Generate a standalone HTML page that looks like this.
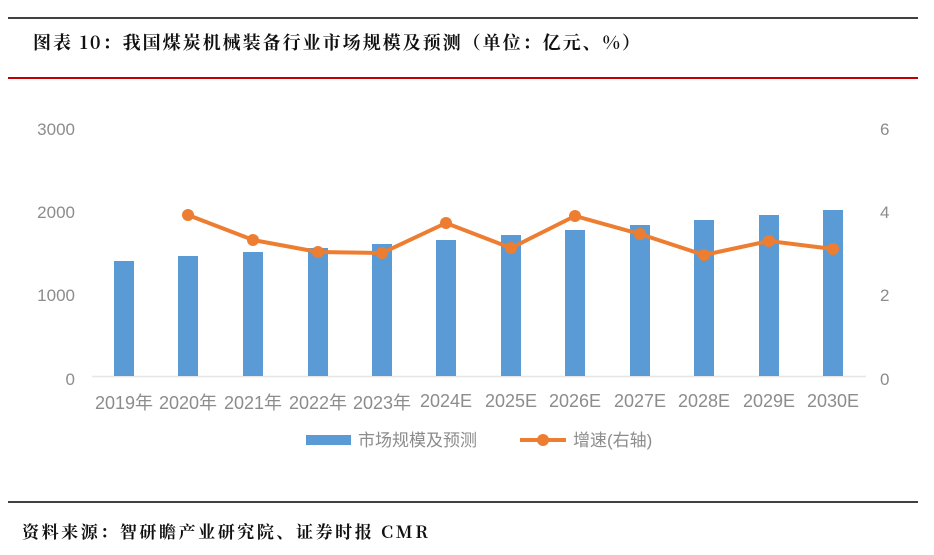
<!DOCTYPE html>
<html><head><meta charset="utf-8"><style>
body{margin:0;background:#fff;width:934px;height:550px;overflow:hidden}
svg text{font-family:"Liberation Sans","Noto Sans CJK SC",sans-serif}
</style></head><body>
<svg width="934" height="550" xmlns="http://www.w3.org/2000/svg">
<line x1="8" y1="18" x2="918" y2="18" stroke="#000" stroke-width="1.5"/>
<text x="33" y="49" font-size="18" font-weight="bold" fill="#111" textLength="607" lengthAdjust="spacing" style="font-family:'Noto Serif CJK SC','Liberation Serif',serif">图表 10：我国煤炭机械装备行业市场规模及预测（单位：亿元、%）</text>
<line x1="8" y1="78" x2="918" y2="78" stroke="#c00000" stroke-width="2"/>
<g font-size="17" fill="#8c8c8c">
<text x="75" y="135" text-anchor="end">3000</text>
<text x="75" y="218" text-anchor="end">2000</text>
<text x="75" y="301" text-anchor="end">1000</text>
<text x="75" y="385" text-anchor="end">0</text>
<text x="880" y="135">6</text>
<text x="880" y="218">4</text>
<text x="880" y="301">2</text>
<text x="880" y="385">0</text>
</g>
<line x1="92" y1="376.5" x2="866" y2="376.5" stroke="#e6e6e6" stroke-width="1.5"/>
<g fill="#5b9bd5">
<rect x="114" y="261" width="20" height="115"/>
<rect x="178" y="256" width="20" height="120"/>
<rect x="243" y="252" width="20" height="124"/>
<rect x="308" y="248" width="20" height="128"/>
<rect x="372" y="244" width="20" height="132"/>
<rect x="436" y="240" width="20" height="136"/>
<rect x="501" y="235" width="20" height="141"/>
<rect x="565" y="230" width="20" height="146"/>
<rect x="630" y="225" width="20" height="151"/>
<rect x="694" y="220" width="20" height="156"/>
<rect x="759" y="215" width="20" height="161"/>
<rect x="823" y="210" width="20" height="166"/>
</g>
<polyline fill="none" stroke="#ed7d31" stroke-width="4" points="188,215 253,240 318,252 382,253 446,223 511,248 575,216 640,234 704,255 769,241 833,249"/>
<g fill="#ed7d31">
<circle cx="188" cy="215" r="6"/><circle cx="253" cy="240" r="6"/><circle cx="318" cy="252" r="6"/><circle cx="382" cy="253" r="6"/><circle cx="446" cy="223" r="6"/><circle cx="511" cy="248" r="6"/><circle cx="575" cy="216" r="6"/><circle cx="640" cy="234" r="6"/><circle cx="704" cy="255" r="6"/><circle cx="769" cy="241" r="6"/><circle cx="833" cy="249" r="6"/>
</g>
<g font-size="18" fill="#8c8c8c" text-anchor="middle">
<text x="124" y="409">2019年</text><text x="188" y="409">2020年</text><text x="253" y="409">2021年</text><text x="318" y="409">2022年</text><text x="382" y="409">2023年</text>
<text x="446" y="407">2024E</text><text x="511" y="407">2025E</text><text x="575" y="407">2026E</text><text x="640" y="407">2027E</text><text x="704" y="407">2028E</text><text x="769" y="407">2029E</text><text x="833" y="407">2030E</text>
</g>
<rect x="306" y="435" width="45" height="10" fill="#5b9bd5"/>
<text x="358" y="446" font-size="17" fill="#8c8c8c">市场规模及预测</text>
<line x1="520" y1="440" x2="566" y2="440" stroke="#ed7d31" stroke-width="4"/>
<circle cx="543" cy="440" r="6" fill="#ed7d31"/>
<text x="573" y="446" font-size="17" fill="#8c8c8c">增速(右轴)</text>
<line x1="8" y1="502" x2="918" y2="502" stroke="#000" stroke-width="1.5"/>
<text x="22" y="538" font-size="17" font-weight="bold" fill="#111" textLength="406" lengthAdjust="spacing" style="font-family:'Noto Serif CJK SC','Liberation Serif',serif">资料来源：智研瞻产业研究院、证券时报 CMR</text>
</svg>
</body></html>
